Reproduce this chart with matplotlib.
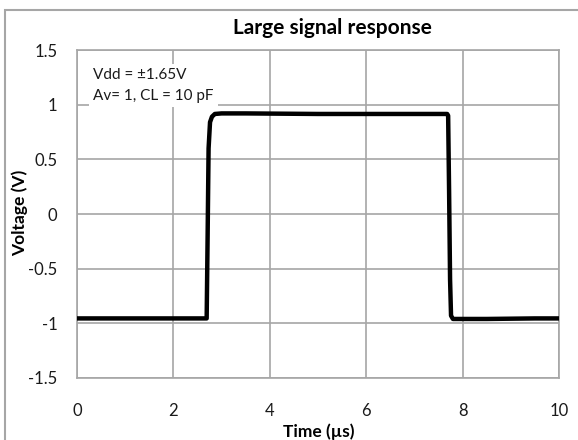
import matplotlib.pyplot as plt
from matplotlib.patches import Rectangle

plt.rcParams['font.family'] = ['Lato', 'DejaVu Sans']

# waveform (time in us, voltage in V)
time_us = [0, 1.0, 2.0, 2.69, 2.71, 2.73, 2.76, 2.80, 2.86, 3.0, 3.5, 5.0, 7.0, 7.68, 7.70,
           7.72, 7.74, 7.76, 7.80, 8.5, 9.5, 10.0]
voltage = [-0.955, -0.955, -0.955, -0.955, -0.2, 0.6, 0.84, 0.89, 0.915, 0.92, 0.92, 0.915,
           0.915, 0.915, 0.90, 0.2, -0.6, -0.93, -0.96, -0.96, -0.955, -0.955]

xticks = [0, 2, 4, 6, 8, 10]
yticks = [-1.5, -1, -0.5, 0, 0.5, 1, 1.5]
ytick_labels = ['-1.5', '-1', '-0.5', '0', '0.5', '1', '1.5']

grey = '#a6a6a6'

fig = plt.figure(figsize=(5.78, 4.4), dpi=100)
ax = fig.add_axes([77 / 578, 62 / 440, 482 / 578, 328 / 440])

# chart area border (cropped on the right and bottom)
fig.patches.append(Rectangle((5 / 578, -0.1), 1.2, (430 / 440) + 0.1,
                             transform=fig.transFigure, fill=False,
                             edgecolor=grey, lw=1.5))

ax.plot(time_us, voltage, color='black', lw=3.2, solid_joinstyle='round', zorder=3)

ax.set_xlim(0, 10)
ax.set_ylim(-1.5, 1.5)
ax.set_xticks(xticks)
ax.set_yticks(yticks)
ax.set_yticklabels(ytick_labels)
ax.grid(True, color=grey, lw=1.2)
ax.set_axisbelow(True)
for s in ax.spines.values():
    s.set_color(grey)
    s.set_linewidth(1.2)
ax.tick_params(axis='x', length=0, pad=18, labelsize=12, colors='#1a1a1a')
ax.tick_params(axis='y', length=0, pad=14, labelsize=12, colors='#1a1a1a')

ax.text(0.033, 0.945, 'Vdd = ±1.65V\nAv= 1, CL = 10 pF', transform=ax.transAxes,
        fontsize=11, va='top', ha='left', linespacing=1.6, color='#1a1a1a',
        bbox=dict(facecolor='white', edgecolor='none', pad=3), zorder=4)

fig.text(332 / 578, 412 / 440, 'Large signal response', ha='center', va='center',
         fontsize=15, fontweight='bold')
fig.text(319 / 578, 8 / 440, 'Time (µs)', ha='center', va='center',
         fontsize=12.5, fontweight='bold')
fig.text(20 / 578, 227 / 440, 'Voltage (V)', ha='center', va='center', rotation=90,
         fontsize=12.5, fontweight='bold')

plt.savefig('out.png', dpi=100)
